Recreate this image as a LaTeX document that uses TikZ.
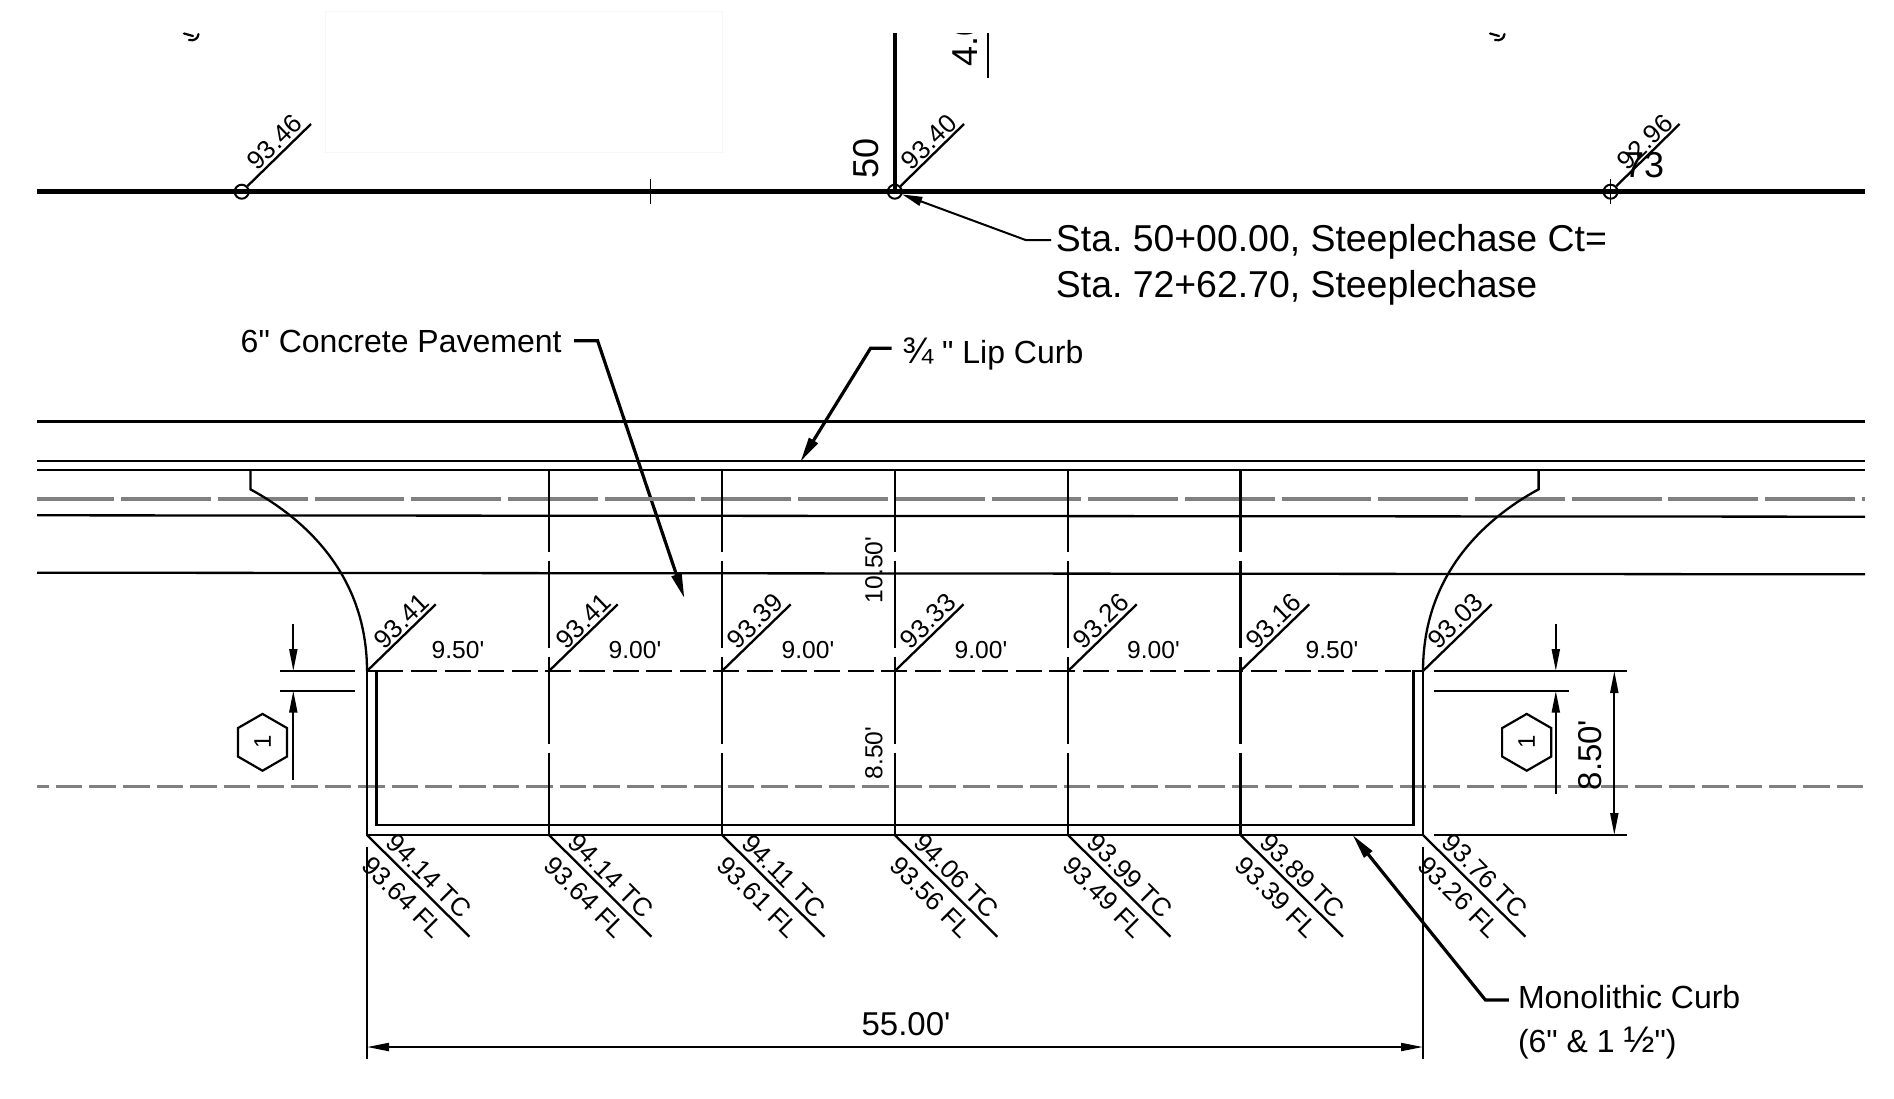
\documentclass[tikz,border=0pt]{standalone}
\usepackage{fontspec}
\setmainfont[Ligatures=TeXOff]{Liberation Sans}
\usetikzlibrary{arrows.meta,shapes.geometric}
\frenchspacing
\begin{document}
\begin{tikzpicture}[x=0.5pt, y=-0.5pt,
  main/.style = {draw, circle, line width=1pt, minimum size=7pt, inner sep=0pt},
  elev/.style = {inner sep=0pt, font=\fontsize{13}{14}\selectfont},
  small/.style = {inner sep=0pt, font=\fontsize{12.3}{14}\selectfont},
  note/.style = {inner sep=0pt, font=\fontsize{16}{22}\selectfont, align=left},
  big/.style = {inner sep=0pt, font=\fontsize{18}{20}\selectfont},
  hexa/.style = {draw, regular polygon, regular polygon sides=6, minimum size=28.4pt, inner sep=0pt, line width=1.1pt, font=\fontsize{12}{14}\selectfont},
  wire/.style = {line width=1.15pt},
  curb/.style = {line width=1.4pt},
  lead/.style = {line width=1.6pt, -{Triangle[length=12.5pt,width=5pt]}},
  dim/.style = {line width=1pt, -{Triangle[length=11pt,width=4pt]}},
  joint/.style = {line width=1.05pt, dash pattern=on 43.65pt off 4.35pt, dash phase=2.65pt},
  center line/.style = {color=black!50, line width=1.8pt, dash pattern=on 44.9pt off 3.45pt, dash phase=6.25pt},
  edge line/.style = {color=black!50, line width=1.4pt, dash pattern=on 13.3pt off 3.5pt, dash phase=7.45pt}]
\useasboundingbox (0,0) rectangle (1894,1098);
\draw[black!3, line width=0.5pt] (325,11) rectangle (722.6,152);

\begin{scope}
\clip (0,33) rectangle (1894,100);
\node[big, rotate=90, anchor=base west] (40) at (977,67) {4.0};
\end{scope}
\draw[wire] (988.3,33) -- (988.3,78.3);
\draw[line width=1.1pt, line cap=round] (184,33.5) -- (193,36);
\draw[line width=1.1pt, line cap=round] (198.5,34) .. controls (198,39) and (194,41) .. (189,40);
\draw[line width=1.1pt, line cap=round] (1490,33.5) -- (1499,36);
\draw[line width=1.1pt, line cap=round] (1504.5,34) .. controls (1504,39) and (1500,41) .. (1495,40);

\draw[line width=2.35pt] (37,191.7) -- (1865,191.7);
\draw[line width=1.7pt] (894.8,33) -- (894.8,191.7);
\draw[line width=0.85pt] (650.5,179) -- (650.5,204);
\draw[line width=0.85pt] (1610.6,179) -- (1610.6,204);

\node[main] (c1) at (241.7,191.7) {};
\node[main] (c2) at (894.8,191.7) {};
\node[main] (c3) at (1610.6,191.7) {};
\coordinate (t1) at (311,124);
\coordinate (t2) at (964,124);
\coordinate (t3) at (1679.6,124);
\draw[wire] (c1) -- (t1);
\draw[wire] (c2) -- (t2);
\draw[wire] (c3) -- (t3);
\node[elev, rotate=44] (e1) at (274.6,142) {93.46};
\node[elev, rotate=44] (e2) at (929,142) {93.40};
\node[elev, rotate=44] (e3) at (1645,142) {92.96};
\node[big, rotate=90] (50) at (866,158) {50};
\node[big] (73) at (1644,165) {73};

\node[inner sep=0pt, font=\fontsize{18.7}{23}\selectfont, align=left, anchor=west] (sta) at (1055.5,265) {Sta. 50+00.00, Steeplechase Ct=\\Sta. 72+62.70, Steeplechase};
\coordinate (s1) at (1051,240);
\coordinate (s2) at (1025.6,240);
\draw[line width=1pt, -{Triangle[length=10pt,width=4.5pt]}] (s1) -- (s2) -- (c2);

\node[note, anchor=east] (conc) at (562,341.5) {6" Concrete Pavement};
\coordinate (k1) at (574,340.7);
\coordinate (k2) at (597.6,340.7);
\coordinate (k3) at (684.4,598.3);
\draw[lead] (k1) -- (k2) -- (k3);

\node[note, anchor=west] (lip) at (902,353.5) {{\fontsize{18.5}{22}\selectfont ¾} " Lip Curb};
\coordinate (l1) at (891.6,348.3);
\coordinate (l2) at (870.5,348.3);
\coordinate (l3) at (800.4,461.7);
\draw[lead] (l1) -- (l2) -- (l3);

\draw[wire] (37,421.6) -- (1865,421.6);
\draw[wire] (37,460.7) -- (1865,460.7);
\draw[wire] (37,470) -- (1865,470);
\draw[center line] (37,498.7) -- (1865,498.7);
\draw[wire] (37,515.3) -- (1865,516.7);
\draw[wire] (37,572.7) -- (1865,574.3);
\draw[edge line] (37,786.6) -- (1865,786.6);

\draw[wire] (250.4,470) -- (250.4,489.3) .. controls (305,519) and (367,575) .. (367,671);
\draw[wire] (1538.6,470) -- (1538.6,489.3) .. controls (1484,519) and (1423,575) .. (1423,671);

\draw[joint] (549,470) -- (549,835);
\draw[joint] (722,470) -- (722,835);
\draw[joint] (894.8,470) -- (894.8,835);
\draw[joint] (1068,470) -- (1068,835);
\draw[joint] (1240.5,470) -- (1240.5,835);
\draw[line width=1.1pt, dash pattern=on 13pt off 3.8pt, dash phase=11.6pt] (367,671) -- (1423,671);

\draw[curb] (367,671) -- (367,835) -- (1423,835) -- (1423,671);
\draw[curb] (367,671) -- (376.8,671) -- (376.8,825) -- (1413.4,825) -- (1413.4,671) -- (1423,671);

\coordinate (u1) at (367,671);
\coordinate (u2) at (549,671);
\coordinate (u3) at (722,671);
\coordinate (u4) at (894.8,671);
\coordinate (u5) at (1068,671);
\coordinate (u6) at (1240.5,671);
\coordinate (u7) at (1423,671);
\coordinate (a1) at (435.75,604.3);
\coordinate (a2) at (617.75,604.3);
\coordinate (a3) at (790.75,604.3);
\coordinate (a4) at (963.55,604.3);
\coordinate (a5) at (1136.75,604.3);
\coordinate (a6) at (1309.25,604.3);
\coordinate (a7) at (1491.75,604.3);
\draw[wire] (u1) -- (a1);
\draw[wire] (u2) -- (a2);
\draw[wire] (u3) -- (a3);
\draw[wire] (u4) -- (a4);
\draw[wire] (u5) -- (a5);
\draw[wire] (u6) -- (a6);
\draw[wire] (u7) -- (a7);
\node[elev, rotate=44] (g1) at (401.5,621) {93.41};
\node[elev, rotate=44] (g2) at (583.5,621) {93.41};
\node[elev, rotate=44] (g3) at (755,621) {93.39};
\node[elev, rotate=44] (g4) at (927.8,621) {93.33};
\node[elev, rotate=44] (g5) at (1101,621) {93.26};
\node[elev, rotate=44] (g6) at (1273.5,621) {93.16};
\node[elev, rotate=44] (g7) at (1455.5,621) {93.03};

\node[small] (w1) at (458,650) {9.50'};
\node[small] (w2) at (635,650) {9.00'};
\node[small] (w3) at (808,650) {9.00'};
\node[small] (w4) at (981,650) {9.00'};
\node[small] (w5) at (1153.5,650) {9.00'};
\node[small] (w6) at (1332,650) {9.50'};
\node[small, rotate=90] (v1) at (874,570) {10.50'};
\node[small, rotate=90] (v2) at (874,753) {8.50'};

\coordinate (b1) at (367,835);
\coordinate (b2) at (549,835);
\coordinate (b3) at (722,835);
\coordinate (b4) at (894.8,835);
\coordinate (b5) at (1068,835);
\coordinate (b6) at (1240.5,835);
\coordinate (b7) at (1423,835);
\coordinate (d1) at (469.5,936.7);
\coordinate (d2) at (651.5,936.7);
\coordinate (d3) at (824.5,936.7);
\coordinate (d4) at (997.3,936.7);
\coordinate (d5) at (1170.5,936.7);
\coordinate (d6) at (1343,936.7);
\coordinate (d7) at (1525.5,936.7);
\draw[wire] (b1) -- (d1);
\draw[wire] (b2) -- (d2);
\draw[wire] (b3) -- (d3);
\draw[wire] (b4) -- (d4);
\draw[wire] (b5) -- (d5);
\draw[wire] (b6) -- (d6);
\draw[wire] (b7) -- (d7);
\node[elev, rotate=-45] (tc1) at (429,876) {94.14 TC};
\node[elev, rotate=-45] (tc2) at (611,876) {94.14 TC};
\node[elev, rotate=-45] (tc3) at (784,876) {94.11 TC};
\node[elev, rotate=-45] (tc4) at (956.8,876) {94.06 TC};
\node[elev, rotate=-45] (tc5) at (1130,876) {93.99 TC};
\node[elev, rotate=-45] (tc6) at (1302.5,876) {93.89 TC};
\node[elev, rotate=-45] (tc7) at (1485,876) {93.76 TC};
\node[elev, rotate=-45] (fl1) at (403,897) {93.64 FL};
\node[elev, rotate=-45] (fl2) at (585,897) {93.64 FL};
\node[elev, rotate=-45] (fl3) at (758,897) {93.61 FL};
\node[elev, rotate=-45] (fl4) at (930.8,897) {93.56 FL};
\node[elev, rotate=-45] (fl5) at (1104,897) {93.49 FL};
\node[elev, rotate=-45] (fl6) at (1276.5,897) {93.39 FL};
\node[elev, rotate=-45] (fl7) at (1459,897) {93.26 FL};

\draw[curb] (280,671) -- (355,671);
\draw[wire] (280,690.7) -- (355,690.7);
\draw[curb] (1433.7,671) -- (1627,671);
\draw[wire] (1433.7,690.7) -- (1568.8,690.7);
\draw[curb] (1433.7,835) -- (1627,835);

\coordinate (p1) at (293.3,624);
\coordinate (p2) at (293.3,671);
\coordinate (p3) at (293.3,780);
\coordinate (p4) at (293.3,690.7);
\coordinate (q1) at (1555.8,624);
\coordinate (q2) at (1555.8,671);
\coordinate (q3) at (1555.8,794);
\coordinate (q4) at (1555.8,690.7);
\draw[dim] (p1) -- (p2);
\draw[dim] (p3) -- (p4);
\draw[dim] (q1) -- (q2);
\draw[dim] (q3) -- (q4);
\node[hexa, rotate=90] (1) at (262.5,742.3) {1};
\node[hexa, rotate=90] (2) at (1526.7,742.3) {1};

\coordinate (r1) at (1614.3,671);
\coordinate (r2) at (1614.3,835);
\draw[dim, {Triangle[length=11pt,width=4pt]}-{Triangle[length=11pt,width=4pt]}] (r1) -- (r2);
\node[inner sep=0pt, rotate=90, font=\fontsize{16.5}{18}\selectfont] (850) at (1590,755) {8.50'};

\coordinate (m1) at (1508.8,1000);
\coordinate (m2) at (1485.4,1000);
\coordinate (m3) at (1352.6,835);
\draw[lead] (m1) -- (m2) -- (m3);
\node[note, anchor=west] (mono) at (1517.6,1022.5) {Monolithic Curb\\(6" \& 1 {\fontsize{18.5}{22}\selectfont ½}")};

\draw[wire] (367,846.7) -- (367,1059);
\draw[wire] (1423,846.7) -- (1423,1059);
\coordinate (w7) at (367,1047);
\coordinate (w8) at (1423,1047);
\draw[dim, {Triangle[length=11pt,width=4pt]}-{Triangle[length=11pt,width=4pt]}] (w7) -- (w8);
\node[inner sep=0pt, font=\fontsize{16.5}{18}\selectfont] (55) at (906,1024) {55.00'};
\end{tikzpicture}
\end{document}
